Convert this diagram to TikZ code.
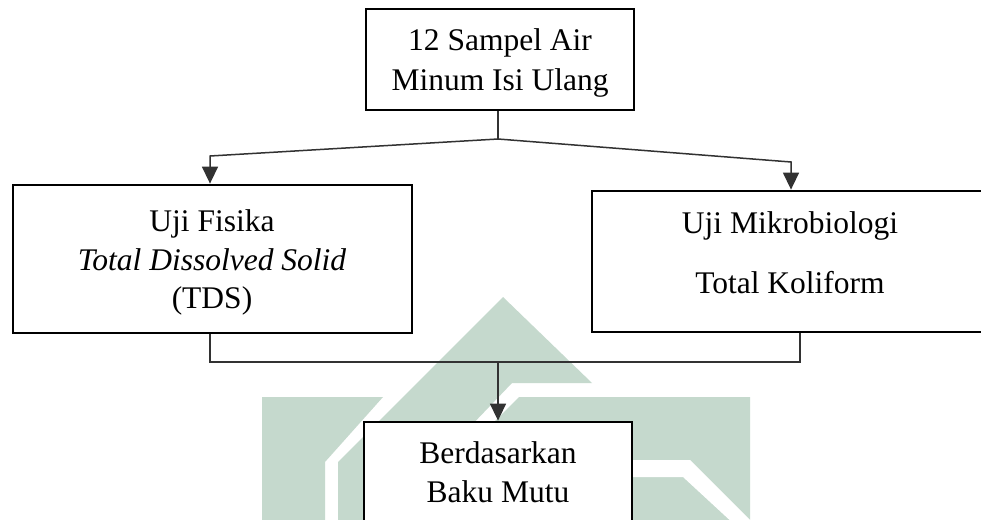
\documentclass[tikz,border=0pt]{standalone}
\usepackage{fontspec}
\setmainfont{Liberation Serif}
\usetikzlibrary{arrows.meta,calc}
\definecolor{wm}{RGB}{197,217,205}
\definecolor{connc}{RGB}{50,50,50}
\begin{document}
\begin{tikzpicture}[x=1pt,y=-1pt,
  box/.style={draw=black,line width=2.8pt,fill=white,rectangle,inner sep=0pt},
  lbl/.style={anchor=base,inner sep=0pt,font=\fontsize{31.5}{38}\selectfont},
  conn/.style={draw=connc,line width=1.5pt},
  arr/.style={conn,-{Triangle[length=17pt,width=16pt]}}]
\useasboundingbox (0,0) rectangle (981,519);
\fill[white] (0,0) rectangle (981,519);
% watermark
\fill[wm] (262,397) -- (383,397) -- (325,462) -- (325,525) -- (262,525) -- cycle;
\fill[wm] (503,297) -- (592,383) -- (512,383) -- (376,525) -- (338,525) -- (338,462) -- cycle;
\fill[wm] (519,397) -- (750,397) -- (750,525) -- (391,525) -- cycle;
\fill[white] (600,460) -- (690,460) -- (755,525) -- (735,525) -- (683,477) -- (600,477) -- cycle;
% boxes
\node[box,minimum width=268pt,minimum height=101pt] (top) at (500,59.5) {};
\node[box,minimum width=399pt,minimum height=148pt] (left) at (212.5,259) {};
\node[box,minimum width=418pt,minimum height=141pt] (right) at (801,261.5) {};
\node[box,minimum width=268pt,minimum height=158pt] (bottom) at (498,501) {};
% texts
\node[lbl] (ta) at (500,50) {12 Sampel Air};
\node[lbl] (tb) at (500,90) {Minum Isi Ulang};
\node[lbl] (la) at (212,231) {Uji Fisika};
\node[lbl] (lb) at (212,270) {\itshape Total Dissolved Solid};
\node[lbl] (lc) at (212,308) {(TDS)};
\node[lbl] (ra) at (790,233) {Uji Mikrobiologi};
\node[lbl] (rb) at (790,293) {Total Koliform};
\node[lbl] (ba) at (498,463) {Berdasarkan};
\node[lbl] (bb) at (498,502) {Baku Mutu};
% connectors
\coordinate (j1) at (498,139);
\coordinate (l1) at (210,156);
\coordinate (r1) at (791,162);
\coordinate (m1) at (210,362);
\coordinate (m2) at (800,362);
\coordinate (m0) at (498,362);
\draw[conn] (top.south -| j1) -- (j1);
\draw[arr] (j1) -- (l1) -- (l1 |- left.north);
\draw[arr] (j1) -- (r1) -- (r1 |- right.north);
\draw[conn] (m1 |- left.south) -- (m1) -- (m2) -- (m2 |- right.south);
\draw[arr] (m0) -- (m0 |- bottom.north);
\end{tikzpicture}
\end{document}
